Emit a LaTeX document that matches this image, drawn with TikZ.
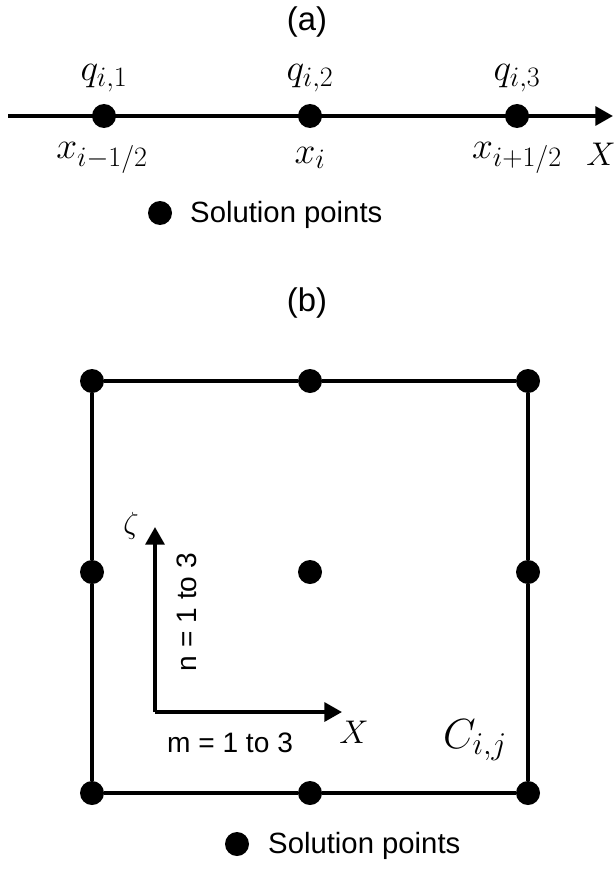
\documentclass[tikz,border=0pt]{standalone}
\usepackage{fix-cm}
\usepackage{fontspec}
\setmainfont{Liberation Sans}
\DeclareMathSizes{32}{32}{24}{19}
\DeclareMathSizes{36}{36}{27}{21}
\usetikzlibrary{arrows.meta}
\tikzset{
  spt/.style={circle,fill=black,inner sep=0pt,minimum size=0.72cm},
  axis/.style={line width=3.2pt,-{Triangle[length=15pt,width=16pt]}},
  edge/.style={line width=3.2pt},
  lbl/.style={font=\fontsize{25}{28}\selectfont,inner sep=0pt},
  mth/.style={font=\fontsize{32}{36}\selectfont,inner sep=0pt},
}
\begin{document}
\begin{tikzpicture}[x=0.03cm,y=-0.03cm]
\useasboundingbox (0,0) rectangle (613,874);
% (a) one dimension
\node[lbl,font=\fontsize{28}{32}\selectfont] (ta) at (307,22) {(a)};
\coordinate (xs) at (8,116);
\coordinate (xe) at (613,116);
\draw[axis] (xs) -- (xe);
\node[spt] (q1) at (104,116) {};
\node[spt] (q2) at (310,116) {};
\node[spt] (q3) at (517,116) {};
\node[mth] (lq1) at (104,78) {$q_{i,1}$};
\node[mth] (lq2) at (310,78) {$q_{i,2}$};
\node[mth] (lq3) at (517,78) {$q_{i,3}$};
\node[mth] (lx1) at (102,158) {$x_{i-1/2}$};
\node[mth] (lx2) at (310,158) {$x_i$};
\node[mth] (lx3) at (517,158) {$x_{i+1/2}$};
\node[mth,font=\fontsize{28}{32}\selectfont] (lX) at (601,154) {$X$};
\node[spt] (ka) at (160,213) {};
\node[lbl,anchor=west] (sa) at (190,215) {Solution points};
% (b) two dimensions
\node[lbl,font=\fontsize{28}{32}\selectfont] (tb) at (307,303) {(b)};
\node[spt] (c11) at (92,381) {};
\node[spt] (c12) at (310,381) {};
\node[spt] (c13) at (528,381) {};
\node[spt] (c21) at (92,572) {};
\node[spt] (c22) at (310,572) {};
\node[spt] (c23) at (528,572) {};
\node[spt] (c31) at (92,793) {};
\node[spt] (c32) at (310,793) {};
\node[spt] (c33) at (528,793) {};
\draw[edge] (c11) -- (c12) -- (c13) -- (c23) -- (c33) -- (c32) -- (c31) -- (c21) -- (c11);
\coordinate (o) at (155,712);
\coordinate (zt) at (155,527);
\coordinate (xt) at (342,712);
\draw[axis] (o) -- (zt);
\draw[axis] (o) -- (xt);
\node[mth,font=\fontsize{26}{30}\selectfont] (lz) at (131,526) {$\zeta$};
\node[lbl,rotate=90,font=\fontsize{24}{28}\selectfont] (ln) at (187,612) {n = 1 to 3};
\node[lbl,font=\fontsize{24}{28}\selectfont] (lm) at (230,743) {m = 1 to 3};
\node[mth,font=\fontsize{28}{32}\selectfont] (lX2) at (354,732) {$X$};
\node[mth,font=\fontsize{36}{40}\selectfont] (lc) at (475,740) {$C_{i,j}$};
\node[spt] (kb) at (237,844) {};
\node[lbl,anchor=west] (sb) at (268,846) {Solution points};
\end{tikzpicture}
\end{document}
